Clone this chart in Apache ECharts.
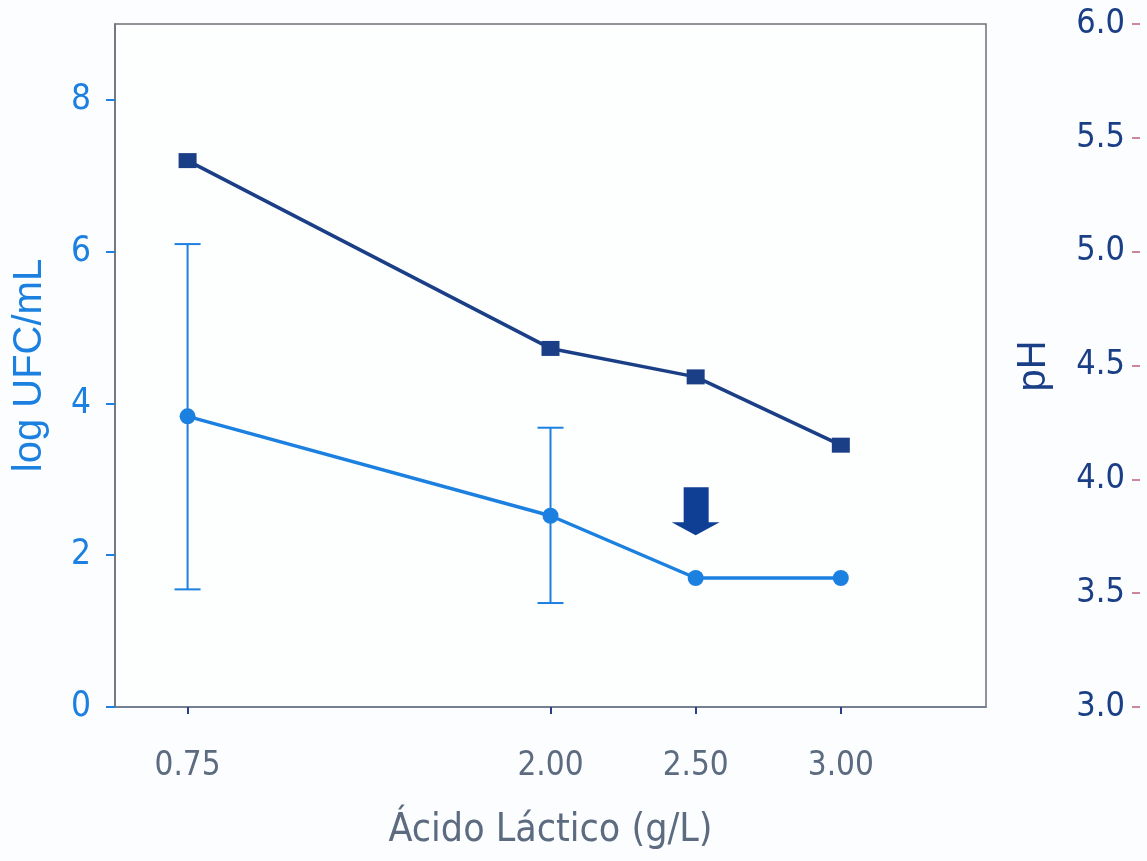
<!DOCTYPE html>
<html><head><meta charset="utf-8">
<script src="https://cdn.jsdelivr.net/npm/echarts@6/dist/echarts.min.js"></script>
<style>html,body{margin:0;padding:0;background:#fbfdfe}#c{width:1147px;height:861px}</style>
</head><body><div id="c"></div>
<script>
const xValues = [0.75, 2.00, 2.50, 3.00];
const xTickLabels = [0.75, 2.00, 2.50, 3.00];
const logUFC = [3.83, 2.52, 1.70, 1.70];
const logUFCLow = [1.55, 1.37, null, null];
const logUFCHigh = [6.10, 3.68, null, null];
const pH = [5.40, 4.575, 4.45, 4.15];
const leftTicks = [0, 2, 4, 6, 8];
const arrowAt = [2.50, 2.58];

const font = '"DejaVu Sans Condensed", "DejaVu Sans", sans-serif';
const arial = '"Liberation Sans", Arial, sans-serif';
const navy = '#1b3f86';
const blue = '#1b80e0';

const chart = echarts.init(document.getElementById('c'));
const errData = xValues.map((x, i) => [x, logUFCLow[i], logUFCHigh[i]]).filter(d => d[1] != null);

chart.setOption({
  backgroundColor: '#fbfdfe',
  animation: false,
  grid: { left: 115, top: 24, right: 161, bottom: 154, show: true, borderColor: '#6d7077', borderWidth: 1.5, backgroundColor: '#fdfefe' },
  xAxis: {
    type: 'value', min: 0.5, max: 3.5,
    name: 'Ácido Láctico (g/L)', nameLocation: 'middle', nameGap: 104,
    nameTextStyle: { color: '#5c6b80', fontSize: 39, fontFamily: font },
    axisLine: { show: true, onZero: false, lineStyle: { color: '#6c7a90', width: 1.5 } },
    axisTick: { show: true, customValues: xTickLabels, length: 7, lineStyle: { color: '#2b3e88', width: 2 } },
    axisLabel: { customValues: xTickLabels, formatter: v => v.toFixed(2), color: '#5c6b80', fontSize: 33, fontFamily: font, margin: 43 },
    splitLine: { show: false }
  },
  yAxis: [
    {
      type: 'value', min: 0, max: 9, position: 'left',
      name: 'log UFC/mL', nameLocation: 'middle', nameGap: 65, nameRotate: 90,
      nameTextStyle: { color: blue, fontSize: 40, fontFamily: arial },
      axisLine: { show: true, lineStyle: { color: '#6d7077', width: 1.5 } },
      axisTick: { show: true, customValues: leftTicks, length: 9, lineStyle: { color: blue, width: 2 } },
      axisLabel: { customValues: leftTicks, color: blue, fontSize: 35, fontFamily: font, margin: 24 },
      splitLine: { show: false }
    },
    {
      type: 'value', min: 3, max: 6, interval: 0.5, position: 'right', offset: 154,
      axisLine: { show: false },
      axisTick: { show: true, inside: true, length: 8, lineStyle: { color: '#c0607a', width: 1.5 } },
      axisLabel: { inside: true, formatter: v => v.toFixed(1), color: navy, fontSize: 34, fontFamily: font, margin: 15 },
      splitLine: { show: false }
    }
  ],
  graphic: [{
    type: 'text', x: 1034, y: 366, rotation: Math.PI / 2,
    style: { text: 'pH', fill: navy, font: '40px ' + arial, align: 'center', verticalAlign: 'middle' }
  }],
  series: [
    {
      type: 'custom', yAxisIndex: 0, z: 1,
      data: errData,
      renderItem: (params, api) => {
        const x = api.value(0);
        const lo = api.coord([x, api.value(1)]);
        const hi = api.coord([x, api.value(2)]);
        const w = 13;
        const st = { stroke: blue, lineWidth: 2 };
        return { type: 'group', children: [
          { type: 'line', shape: { x1: lo[0], y1: lo[1], x2: hi[0], y2: hi[1] }, style: st },
          { type: 'line', shape: { x1: lo[0] - w, y1: lo[1], x2: lo[0] + w, y2: lo[1] }, style: st },
          { type: 'line', shape: { x1: hi[0] - w, y1: hi[1], x2: hi[0] + w, y2: hi[1] }, style: st }
        ]};
      }
    },
    {
      name: 'log UFC/mL', type: 'line', yAxisIndex: 0, z: 3,
      data: xValues.map((x, i) => [x, logUFC[i]]),
      symbol: 'circle', symbolSize: 16,
      lineStyle: { color: blue, width: 3.5 },
      itemStyle: { color: blue },
      markPoint: {
        data: [{ coord: arrowAt }],
        symbol: 'path://M12,0 L37,0 L37,35 L48,35 L24,48 L0,35 L12,35 Z',
        symbolSize: [48, 48],
        itemStyle: { color: '#0f3f95' },
        label: { show: false }
      }
    },
    {
      name: 'pH', type: 'line', yAxisIndex: 1, z: 4,
      data: xValues.map((x, i) => [x, pH[i]]),
      symbol: 'rect', symbolSize: [18, 15],
      lineStyle: { color: navy, width: 3.5 },
      itemStyle: { color: navy }
    }
  ]
});
</script></body></html>
